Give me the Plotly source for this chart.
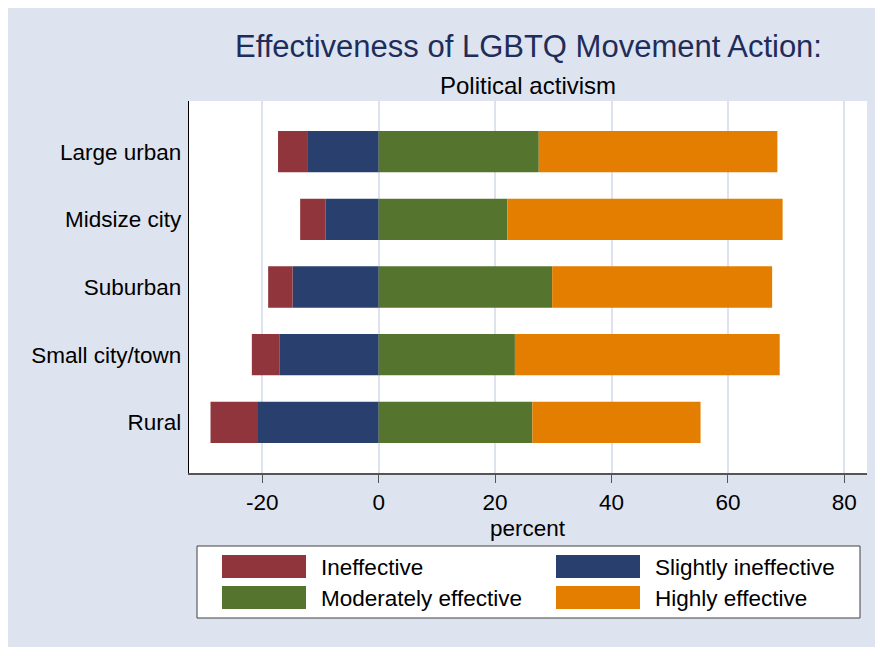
import plotly.graph_objects as go

# Datos (porcentajes)
categorias = ['Large urban', 'Midsize city', 'Suburban', 'Small city/town', 'Rural']
ineficaz = [5.0, 4.4, 4.2, 4.8, 8.0]
poco_eficaz = [12.3, 9.1, 14.8, 17.0, 20.9]
moderado = [27.5, 22.1, 29.8, 23.4, 26.4]
muy_eficaz = [41.0, 47.3, 37.8, 45.5, 28.9]

x_ticks = [-20, 0, 20, 40, 60, 80]
x_ticktext = ['-20', '0', '20', '40', '60', '80']

COLORES = {
    'Ineffective': '#90353b',
    'Slightly ineffective': '#29406f',
    'Moderately effective': '#55752f',
    'Highly effective': '#e37e00',
}

FUENTE = 'Liberation Sans, Arial, sans-serif'
FONDO = '#dee4ef'

W, H = 883, 647
M_L, M_R, M_T, M_B = 181, 24, 93, 182
PW = W - M_L - M_R
PH = H - M_T - M_B
OFF = 8  # margen de la página


def px_x(p):
    return (p - OFF - M_L) / PW


def px_y(p):
    return (H - M_B - (p - OFF)) / PH


fig = go.Figure()

# Orden de apilado: los negativos se apilan desde 0 hacia fuera
series = [
    ('Slightly ineffective', [-v for v in poco_eficaz]),
    ('Ineffective', [-v for v in ineficaz]),
    ('Moderately effective', moderado),
    ('Highly effective', muy_eficaz),
]
for nombre, valores in series:
    fig.add_trace(go.Bar(
        x=valores,
        y=categorias,
        orientation='h',
        name=nombre,
        width=0.61,
        marker=dict(color=COLORES[nombre], line=dict(width=0)),
        showlegend=False,
    ))

# Caja de la leyenda
shapes = [
    dict(type='rect', xref='paper', yref='paper',
         x0=px_x(197), x1=px_x(860), y0=px_y(618), y1=px_y(546),
         fillcolor='white', line=dict(color='#404040', width=1)),
]

annotations = []
leyenda = [
    ('Ineffective', 222, 555),
    ('Slightly ineffective', 556, 555),
    ('Moderately effective', 222, 586),
    ('Highly effective', 556, 586),
]
for nombre, lx, ly in leyenda:
    shapes.append(dict(
        type='rect', xref='paper', yref='paper',
        x0=px_x(lx), x1=px_x(lx + 84), y0=px_y(ly + 23), y1=px_y(ly),
        fillcolor=COLORES[nombre], line=dict(width=0)))
    annotations.append(dict(
        text=nombre, xref='paper', yref='paper',
        x=px_x(lx + 97), y=px_y(ly + 12), xanchor='left', yanchor='middle',
        showarrow=False, font=dict(size=22.5, color='black', family=FUENTE)))

annotations.append(dict(
    text='Effectiveness of LGBTQ Movement Action:', xref='paper', yref='paper',
    x=0.5, y=px_y(47), xanchor='center', yanchor='middle', showarrow=False,
    font=dict(size=31, color='#1e2d5a', family=FUENTE)))
annotations.append(dict(
    text='Political activism', xref='paper', yref='paper',
    x=0.5, y=px_y(85), xanchor='center', yanchor='middle', showarrow=False,
    font=dict(size=24, color='black', family=FUENTE)))
annotations.append(dict(
    text='percent', xref='paper', yref='paper',
    x=0.5, y=px_y(528), xanchor='center', yanchor='middle', showarrow=False,
    font=dict(size=22.5, color='black', family=FUENTE)))

fig.update_layout(
    width=W, height=H,
    barmode='relative',
    paper_bgcolor=FONDO,
    plot_bgcolor='white',
    margin=dict(l=M_L, r=M_R, t=M_T, b=M_B),
    font=dict(family=FUENTE, size=22.5, color='black'),
    shapes=shapes,
    annotations=annotations,
    xaxis=dict(
        range=[-32.6, 83.9],
        tickvals=x_ticks, ticktext=x_ticktext,
        showgrid=True, gridcolor='#dde3ee', gridwidth=1.5,
        zeroline=False,
        showline=True, linecolor='#555555', linewidth=1.5,
        ticks='outside', ticklen=8, tickwidth=1, tickcolor='#555555',
        tickfont=dict(size=22.5, color='black'),
    ),
    yaxis=dict(
        range=[4.75, -0.75],
        type='category',
        showgrid=False, zeroline=False,
        showline=True, linecolor='black', linewidth=1.3,
        ticks='', ticklabelstandoff=2,
        tickfont=dict(size=22.5, color='black'),
    ),
)

fig.write_html('out.html')
